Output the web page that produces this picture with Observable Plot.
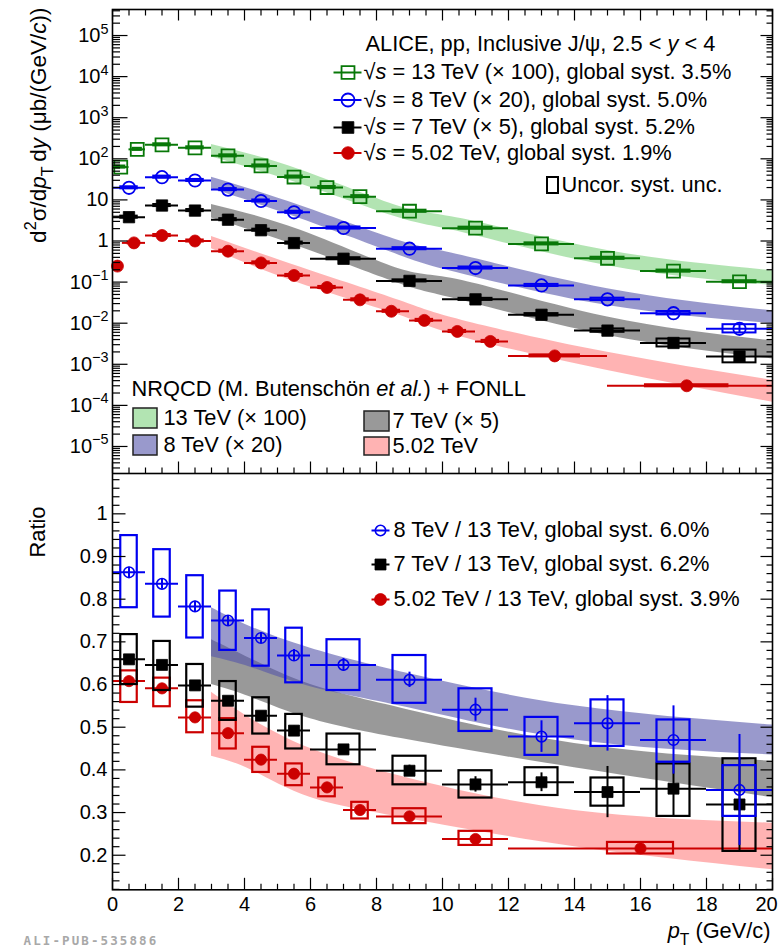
<!DOCTYPE html>
<html><head><meta charset="utf-8">
<script src="https://cdn.jsdelivr.net/npm/d3@7"></script>
<script src="https://cdn.jsdelivr.net/npm/@observablehq/plot@0.6"></script>
<style>
html,body{margin:0;padding:0;background:#fff;}
#chart{width:782px;}
#chart svg{display:block;}
</style></head><body><div id="chart"></div>
<script>
// ================= DATA =================
// --- top panel: cross sections (already multiplied by the scale factors) ---
const pt13 = [0.25, 0.75, 1.5, 2.5, 3.5, 4.5, 5.5, 6.5, 7.5, 9, 11, 13, 15, 17, 19];
const lo13 = [0, 0.5, 1, 2, 3, 4, 5, 6, 7, 8, 10, 12, 14, 16, 18];
const hi13 = [0.5, 1, 2, 3, 4, 5, 6, 7, 8, 10, 12, 14, 16, 18, 20];
const xs13 = [63, 170, 219, 185, 118, 67, 36, 20, 12, 5.3, 2.05, 0.85, 0.38, 0.185, 0.102];
const sys13 = [0.06, 0.06, 0.06, 0.06, 0.06, 0.06, 0.06, 0.06, 0.06, 0.06, 0.06, 0.06, 0.06, 0.06, 0.06];
const stat13 = [0.02, 0.02, 0.02, 0.02, 0.02, 0.02, 0.02, 0.02, 0.02, 0.02, 0.02, 0.02, 0.02, 0.02, 0.02];

const pt8 = [0.5, 1.5, 2.5, 3.5, 4.5, 5.5, 7, 9, 11, 13, 15, 17, 19];
const lo8 = [0, 1, 2, 3, 4, 5, 6, 8, 10, 12, 14, 16, 18];
const hi8 = [1, 2, 3, 4, 5, 6, 8, 10, 12, 14, 16, 18, 20];
const xs8 = [19.7, 35.8, 29.7, 17.8, 9.4, 5.0, 2.07, 0.65, 0.22, 0.083, 0.038, 0.0175, 0.0073];
const sys8 = [0.06, 0.06, 0.06, 0.06, 0.06, 0.06, 0.06, 0.06, 0.06, 0.06, 0.07, 0.1, 0.26];
const stat8 = [0.01, 0.01, 0.01, 0.01, 0.01, 0.01, 0.01, 0.02, 0.03, 0.04, 0.06, 0.1, 0.3];

const xs7 = [3.8, 7.3, 5.5, 3.3, 1.83, 0.89, 0.37, 0.107, 0.038, 0.016, 0.0066, 0.0033, 0.00155];
const sys7 = [0.06, 0.06, 0.06, 0.06, 0.06, 0.06, 0.06, 0.06, 0.06, 0.07, 0.1, 0.25, 0.43];
const stat7 = [0.01, 0.01, 0.01, 0.01, 0.01, 0.01, 0.01, 0.02, 0.03, 0.04, 0.08, 0.1, 0.3];

const pt5 = [0.15, 0.65, 1.5, 2.5, 3.5, 4.5, 5.5, 6.5, 7.5, 8.45, 9.45, 10.45, 11.45, 13.4, 17.4];
const lo5 = [0, 0.3, 1, 2, 3, 4, 5, 6, 7, 8, 9, 10, 11, 12, 15];
const hi5 = [0.3, 1, 2, 3, 4, 5, 6, 7, 8, 9, 10, 11, 12, 15, 20];
const xs5 = [0.245, 0.9, 1.36, 1.0, 0.565, 0.293, 0.145, 0.074, 0.037, 0.0195, 0.0117, 0.0063, 0.0036, 0.0016, 0.0003];
const sys5 = [0.06, 0.06, 0.06, 0.06, 0.06, 0.06, 0.06, 0.06, 0.06, 0.06, 0.06, 0.06, 0.06, 0.06, 0.06];
const stat5 = [0.02, 0.02, 0.02, 0.02, 0.02, 0.02, 0.02, 0.02, 0.02, 0.02, 0.02, 0.02, 0.02, 0.02, 0.02];

// --- top panel: NRQCD + FONLL bands ---
const bandX = [3, 5.7, 8.7, 10.6, 15, 20];
const band13Lo = [110, 24.5, 3.63, 1.62, 0.251, 0.083];
const band13Hi = [224, 53.7, 6.92, 3.47, 0.589, 0.19];
const band8Lo = [18.6, 3.47, 0.447, 0.158, 0.0269, 0.00977];
const band8Hi = [35.5, 7.24, 1.02, 0.447, 0.0692, 0.02];
const band7Lo = [3.63, 0.708, 0.0912, 0.0355, 0.005, 0.00135];
const band7Hi = [7.76, 1.82, 0.209, 0.11, 0.0141, 0.00372];
const band5Lo = [0.646, 0.0912, 0.0155, 0.00457, 0.000708, 0.00012];
const band5Hi = [1.29, 0.229, 0.0355, 0.0117, 0.00195, 0.000407];

// --- bottom panel: ratios to 13 TeV ---
const ptR = [0.5, 1.5, 2.5, 3.5, 4.5, 5.5, 7, 9, 11, 13, 15, 17, 19];
const loR = [0, 1, 2, 3, 4, 5, 6, 8, 10, 12, 14, 16, 18];
const hiR = [1, 2, 3, 4, 5, 6, 8, 10, 12, 14, 16, 18, 20];
const r8 = [0.863, 0.836, 0.783, 0.750, 0.709, 0.668, 0.646, 0.611, 0.541, 0.478, 0.509, 0.470, 0.353];
const r8SysLo = [0.780, 0.758, 0.709, 0.680, 0.643, 0.604, 0.586, 0.556, 0.490, 0.434, 0.455, 0.418, 0.291];
const r8SysHi = [0.949, 0.916, 0.855, 0.819, 0.775, 0.732, 0.705, 0.668, 0.590, 0.523, 0.564, 0.517, 0.410];
const r8Stat = [0.012, 0.012, 0.012, 0.012, 0.013, 0.014, 0.015, 0.018, 0.027, 0.037, 0.065, 0.08, 0.13];
const r7 = [0.659, 0.646, 0.598, 0.562, 0.527, 0.492, 0.448, 0.398, 0.366, 0.371, 0.348, 0.356, 0.319];
const r7SysLo = [0.600, 0.586, 0.547, 0.516, 0.484, 0.449, 0.412, 0.365, 0.334, 0.340, 0.315, 0.291, 0.209];
const r7SysHi = [0.717, 0.701, 0.647, 0.607, 0.569, 0.530, 0.484, 0.432, 0.398, 0.405, 0.381, 0.414, 0.426];
const r7Stat = [0.008, 0.008, 0.008, 0.008, 0.009, 0.01, 0.011, 0.013, 0.018, 0.022, 0.06, 0.065, 0.11];
const ptR5 = [0.5, 1.5, 2.5, 3.5, 4.5, 5.5, 6.5, 7.5, 9, 11, 16];
const loR5 = [0, 1, 2, 3, 4, 5, 6, 7, 8, 10, 12];
const hiR5 = [1, 2, 3, 4, 5, 6, 7, 8, 10, 12, 20];
const r5 = [0.608, 0.591, 0.523, 0.486, 0.424, 0.391, 0.359, 0.306, 0.291, 0.238, 0.216];
const r5SysLo = [0.558, 0.548, 0.487, 0.449, 0.394, 0.363, 0.337, 0.285, 0.274, 0.223, 0.203];
const r5SysHi = [0.632, 0.615, 0.562, 0.520, 0.453, 0.414, 0.381, 0.324, 0.309, 0.256, 0.230];
const r5Stat = [0.008, 0.008, 0.008, 0.008, 0.008, 0.008, 0.008, 0.008, 0.008, 0.008, 0.01];
const r5BoxHalf = [0.25, 0.25, 0.25, 0.25, 0.25, 0.25, 0.25, 0.25, 0.5, 0.5, 1];

// --- bottom panel: theory ratio bands ---
const rBandX = [3, 4.2, 6, 9, 14, 20];
const rBand8Lo = [0.665, 0.64, 0.595, 0.545, 0.47, 0.435];
const rBand8Hi = [0.78, 0.735, 0.685, 0.625, 0.55, 0.505];
const rBand7Lo = [0.60, 0.57, 0.52, 0.47, 0.405, 0.335];
const rBand7Hi = [0.705, 0.66, 0.60, 0.54, 0.462, 0.42];
const rBand5Lo = [0.432, 0.40, 0.335, 0.285, 0.22, 0.166];
const rBand5Hi = [0.582, 0.52, 0.45, 0.38, 0.305, 0.275];

// --- texts ---
const titleTop = "ALICE, pp, Inclusive J/ψ, 2.5 < *y* < 4";
const legendTop = [
  "√*s* = 13 TeV (× 100), global syst. 3.5%",
  "√*s* = 8 TeV (× 20), global syst. 5.0%",
  "√*s* = 7 TeV (× 5), global syst. 5.2%",
  "√*s* = 5.02 TeV, global syst. 1.9%"
];
const uncorLabel = "Uncor. syst. unc.";
const theoryTitle = "NRQCD (M. Butenschön *et al.*) + FONLL";
const theoryLabels = ["13 TeV (× 100)", "8 TeV (× 20)", "7 TeV (× 5)", "5.02 TeV"];
const legendBottom = [
  "8 TeV / 13 TeV, global syst. 6.0%",
  "7 TeV / 13 TeV, global syst. 6.2%",
  "5.02 TeV / 13 TeV, global syst. 3.9%"
];
const yTitleTop = "d^{2}σ/d*p*_{T}\u2009d*y* (μb/(GeV/*c*))";
const yTitleBottom = "Ratio";
const xTitle = "*p*_{T} (GeV/c)";
const stamp = "ALI-PUB-535886";
const topExps = [-5, -4, -3, -2, -1, 0, 1, 2, 3, 4, 5];
const ratioTicks = [0.2, 0.3, 0.4, 0.5, 0.6, 0.7, 0.8, 0.9, 1];
const xTicks = [0, 2, 4, 6, 8, 10, 12, 14, 16, 18, 20];

// ================= STYLE / LAYOUT =================
const FONT = "'Liberation Sans', Arial, Helvetica, sans-serif";
const C13 = "#087808", C8 = "#0000f0", C7 = "#000000", C5 = "#cc0000";
const F13 = "#7fd27f", F8 = "#5555aa", F7 = "#555555", F5 = "#ff8080";
const BOP = 0.6;
const FS = 21.8;
const W = 782, TOP_H = 473, BOT_H = 475, ML = 112, MR = 10, TOP_MT = 9, BOT_MB = 58.7;
const xDom = [0, 20], yTopDom = [2.2e-6, 4.3e5], yBotDom = [0.119, 1.0945];

const sx = Plot.scale({x: {domain: xDom, range: [ML, W - MR]}});
const syT = Plot.scale({y: {type: "log", domain: yTopDom, range: [TOP_H, TOP_MT]}});
const syB = Plot.scale({y: {domain: yBotDom, range: [BOT_H - BOT_MB, 0]}});
const X = px => sx.invert(px), YT = py => syT.invert(py), YB = py => syB.invert(py - TOP_H);

// tick values
const topMajor = topExps.map(e => 10 ** e);
const topMinor = [];
for (let e = -6; e <= 5; e++) for (let m = 2; m <= 9; m++) { const v = m * 10 ** e; if (v > yTopDom[0] && v < yTopDom[1]) topMinor.push(v); }
const xMinor = d3.range(0, 41).filter(k => k % 4 !== 0).map(k => k / 2);
const rMinor = d3.range(6, 55).filter(k => k % 5 !== 0).map(k => k / 50);

const tickShape = {draw(ctx, l) { ctx.moveTo(0, 0); ctx.lineTo(0, -l); }};
function edgeTicks(values, side, len) {
  const ch = (side === "left" || side === "right") ? "y" : "x";
  const rot = {left: 90, right: -90, top: 180, bottom: 0}[side];
  return Plot.vector(values, {[ch]: d => d, frameAnchor: side, rotate: rot, length: len, anchor: "start",
    shape: tickShape, stroke: "black", strokeWidth: 1.2, strokeLinecap: "butt"});
}

function rowsTop(x, lo, hi, v, sys, stat) {
  return x.map((d, i) => ({x: d, lo: lo[i], hi: hi[i], v: v[i], bw: (hi[i] - lo[i]) / 4, sys: sys[i], stat: stat[i]}));
}
function rowsRatio(x, lo, hi, v, sLo, sHi, st, half) {
  return x.map((d, i) => ({x: d, lo: lo[i], hi: hi[i], v: v[i], bw: half ? half[i] : (hi[i] - lo[i]) / 4, bLo: sLo[i], bHi: sHi[i], st: st[i]}));
}
function topSeries(rows, c, symbol, r, open) {
  return [
    Plot.ruleY(rows, {y: "v", x1: "lo", x2: "hi", stroke: c, strokeWidth: 2}),
    Plot.rect(rows, {x1: d => d.x - d.bw, x2: d => d.x + d.bw, y1: d => d.v / (1 + d.sys), y2: d => d.v * (1 + d.sys), fill: "none", stroke: c, strokeWidth: 2}),
    Plot.ruleX(rows, {x: "x", y1: d => d.v / (1 + d.stat), y2: d => d.v * (1 + d.stat), stroke: c, strokeWidth: 2}),
    Plot.dot(rows, {x: "x", y: "v", symbol, r, fill: open ? "none" : c, stroke: c, strokeWidth: open ? 1.8 : 0.8})
  ];
}
function ratioSeries(rows, c, symbol, r, open) {
  return [
    Plot.rect(rows, {x1: d => d.x - d.bw, x2: d => d.x + d.bw, y1: "bLo", y2: "bHi", fill: "none", stroke: c, strokeWidth: 2.2}),
    Plot.ruleY(rows, {y: "v", x1: "lo", x2: "hi", stroke: c, strokeWidth: 2}),
    Plot.ruleX(rows, {x: "x", y1: d => d.v - d.st, y2: d => d.v + d.st, stroke: c, strokeWidth: 2}),
    Plot.dot(rows, {x: "x", y: "v", symbol, r, fill: open ? "none" : c, stroke: c, strokeWidth: open ? 1.6 : 0.8})
  ];
}
const band = (x, lo, hi, fill) => Plot.areaY(x.map((d, i) => ({x: d, lo: lo[i], hi: hi[i]})),
  {x: "x", y1: "lo", y2: "hi", fill, fillOpacity: BOP, curve: "natural"});
const label = (txt, x, y, opts = {}) => Plot.text([txt], {x, y, text: d => d, textAnchor: "start", fontSize: FS, fill: "black", ...opts});

const fmtPow = d => { const e = Math.round(Math.log10(d)); return e === 0 ? "1" : e === 1 ? "10" : `10^{${e < 0 ? "−" + (-e) : e}}`; };

// ================= TOP PANEL =================
const topStyles = [
  {c: C13, symbol: "square", r: 7.3, open: true},
  {c: C8, symbol: "circle", r: 6.5, open: true},
  {c: C7, symbol: "square", r: 6.6, open: false},
  {c: C5, symbol: "circle", r: 6.3, open: false}
];
const legendTopRows = [72, 99.5, 127, 152.5];

const topChart = Plot.plot({
  width: W, height: TOP_H, marginTop: TOP_MT, marginBottom: 0, marginLeft: ML, marginRight: MR,
  style: {fontFamily: FONT, fontSize: "20px", background: "white", color: "black"},
  x: {domain: xDom, axis: null},
  y: {type: "log", domain: yTopDom},
  marks: [
    band(bandX, band13Lo, band13Hi, F13),
    band(bandX, band8Lo, band8Hi, F8),
    band(bandX, band7Lo, band7Hi, F7),
    band(bandX, band5Lo, band5Hi, F5),
    ...topSeries(rowsTop(pt13, lo13, hi13, xs13, sys13, stat13), C13, "square", 7.3, true),
    ...topSeries(rowsTop(pt8, lo8, hi8, xs8, sys8, stat8), C8, "circle", 6.2, true),
    ...topSeries(rowsTop(pt8, lo8, hi8, xs7, sys7, stat7), C7, "square", 6.4, false),
    ...topSeries(rowsTop(pt5, lo5, hi5, xs5, sys5, stat5), C5, "circle", 6, false),
    // legend
    label(titleTop, X(365), YT(44)),
    ...legendTop.flatMap((lab, i) => {
      const y = YT(legendTopRows[i]), s = topStyles[i];
      return [
        Plot.link([0], {x1: X(333), x2: X(361), y1: y, y2: y, stroke: s.c, strokeWidth: 2}),
        Plot.dot([0], {x: X(347.5), y, symbol: s.symbol, r: s.r, fill: s.open ? "none" : s.c, stroke: s.c, strokeWidth: s.open ? 1.8 : 0.8}),
        label(lab, X(363), y)
      ];
    }),
    Plot.rect([0], {x1: X(547), x2: X(558), y1: YT(177), y2: YT(193), fill: "none", stroke: "black", strokeWidth: 2}),
    label(uncorLabel, X(561), YT(185)),
    label(theoryTitle, X(131), YT(389)),
    Plot.rect([0], {x1: X(133), x2: X(157), y1: YT(408), y2: YT(428), fill: F13, fillOpacity: BOP, stroke: "#222", strokeWidth: 1.5}),
    Plot.rect([0], {x1: X(133), x2: X(157), y1: YT(435), y2: YT(455), fill: F8, fillOpacity: BOP, stroke: "#222", strokeWidth: 1.5}),
    Plot.rect([0], {x1: X(364), x2: X(389), y1: YT(411), y2: YT(431), fill: F7, fillOpacity: BOP, stroke: "#222", strokeWidth: 1.5}),
    Plot.rect([0], {x1: X(364), x2: X(389), y1: YT(437), y2: YT(455), fill: F5, fillOpacity: BOP, stroke: "#222", strokeWidth: 1.5}),
    label(theoryLabels[0], X(163), YT(418)),
    label(theoryLabels[1], X(163), YT(445)),
    label(theoryLabels[2], X(392), YT(421)),
    label(theoryLabels[3], X(392), YT(446)),
    label(yTitleTop, X(38), YT(7), {rotate: -90, textAnchor: "end", fontSize: 22.5}),
    // axes
    Plot.axisY({ticks: topMajor, tickSize: 0, tickPadding: 4, tickFormat: fmtPow, fontSize: 20, label: null}),
    edgeTicks(topMajor, "left", 15), edgeTicks(topMinor, "left", 7.5),
    edgeTicks(topMajor, "right", 12), edgeTicks(topMinor, "right", 6),
    edgeTicks(xTicks, "top", 11), edgeTicks(xMinor, "top", 6),
    edgeTicks(xTicks, "bottom", 12), edgeTicks(xMinor, "bottom", 6),
    Plot.frame({stroke: "black", strokeWidth: 1.6})
  ]
});

// ================= BOTTOM PANEL =================
const botStyles = [
  {c: C8, symbol: "circle", r: 5.2, open: true},
  {c: C7, symbol: "square", r: 6.2, open: false},
  {c: C5, symbol: "circle", r: 6, open: false}
];
const legendBotRows = [530, 564, 599];

const botChart = Plot.plot({
  width: W, height: BOT_H, marginTop: 0, marginBottom: BOT_MB, marginLeft: ML, marginRight: MR,
  style: {fontFamily: FONT, fontSize: "20px", background: "white", color: "black"},
  x: {domain: xDom},
  y: {domain: yBotDom},
  marks: [
    band(rBandX, rBand7Lo, rBand7Hi, F7),
    band(rBandX, rBand8Lo, rBand8Hi, F8),
    band(rBandX, rBand5Lo, rBand5Hi, F5),
    ...ratioSeries(rowsRatio(ptR5, loR5, hiR5, r5, r5SysLo, r5SysHi, r5Stat, r5BoxHalf), C5, "circle", 5.6, false),
    ...ratioSeries(rowsRatio(ptR, loR, hiR, r7, r7SysLo, r7SysHi, r7Stat), C7, "square", 6.2, false),
    ...ratioSeries(rowsRatio(ptR, loR, hiR, r8, r8SysLo, r8SysHi, r8Stat), C8, "circle", 5.3, true),
    ...legendBottom.flatMap((lab, i) => {
      const y = YB(legendBotRows[i]), s = botStyles[i];
      return [
        Plot.link([0], {x1: X(371), x2: X(389), y1: y, y2: y, stroke: s.c, strokeWidth: 2}),
        Plot.dot([0], {x: X(380), y, symbol: s.symbol, r: s.r, fill: s.open ? "none" : s.c, stroke: s.c, strokeWidth: s.open ? 1.6 : 0.8}),
        label(lab, X(393), y)
      ];
    }),
    label(yTitleBottom, X(38), YB(506), {rotate: -90, textAnchor: "end"}),
    label(xTitle, X(770), YB(931), {textAnchor: "end"}),
    label(stamp, X(23), YB(940.5), {fontSize: 12.5, fontWeight: "bold", fontFamily: "'DejaVu Sans Mono', monospace", fill: "#a8a8a8"}),
    Plot.axisY({ticks: ratioTicks, tickSize: 0, tickPadding: 5, tickFormat: d => d === 1 ? "1" : d.toFixed(1), fontSize: 20, label: null}),
    Plot.axisX({ticks: xTicks.slice(0, -1), tickSize: 0, tickPadding: 7, tickFormat: d => String(d), fontSize: 20, label: null}),
    Plot.axisX({ticks: xTicks.slice(-1), tickSize: 0, tickPadding: 7, tickFormat: d => String(d), fontSize: 20, label: null, dx: -6}),
    edgeTicks(ratioTicks, "left", 13), edgeTicks(rMinor, "left", 7),
    edgeTicks(ratioTicks, "right", 12), edgeTicks(rMinor, "right", 6),
    edgeTicks(xTicks, "bottom", 12), edgeTicks(xMinor, "bottom", 6),
    Plot.frame({stroke: "black", strokeWidth: 1.6})
  ]
});

const host = document.getElementById("chart");
host.append(topChart, botChart);

// ================= rich text (sub/superscripts, italics) =================
function parseRich(s) {
  const segs = []; let i = 0, italic = false, buf = "";
  const flush = () => { if (buf) segs.push({t: buf, mode: "n", italic}); buf = ""; };
  while (i < s.length) {
    const c = s[i];
    if ((c === "_" || c === "^") && s[i + 1] === "{") {
      flush();
      const j = s.indexOf("}", i);
      segs.push({t: s.slice(i + 2, j), mode: c === "_" ? "sub" : "sup", italic});
      i = j + 1;
    } else if (c === "*") { flush(); italic = !italic; i++; }
    else { buf += c; i++; }
  }
  flush();
  return segs;
}
function richify(el) {
  const s = el.textContent;
  if (!/[_^]\{|\*/.test(s)) return;
  const fs = parseFloat(getComputedStyle(el).fontSize) || 20;
  const segs = parseRich(s);
  while (el.firstChild) el.removeChild(el.firstChild);
  let off = 0;
  for (const g of segs) {
    const ts = document.createElementNS("http://www.w3.org/2000/svg", "tspan");
    const target = g.mode === "sup" ? -0.42 * fs : g.mode === "sub" ? 0.32 * fs : 0;
    const dy = target - off; off = target;
    if (dy) ts.setAttribute("dy", dy);
    if (g.mode !== "n") ts.setAttribute("font-size", 0.72 * fs);
    if (g.italic) ts.setAttribute("font-style", "italic");
    ts.textContent = g.t;
    el.appendChild(ts);
  }
}
host.querySelectorAll("text").forEach(el => {
  richify(el);
  if (el.textContent.startsWith("ALI-PUB")) el.setAttribute("letter-spacing", "2.1px");
});
</script></body></html>
